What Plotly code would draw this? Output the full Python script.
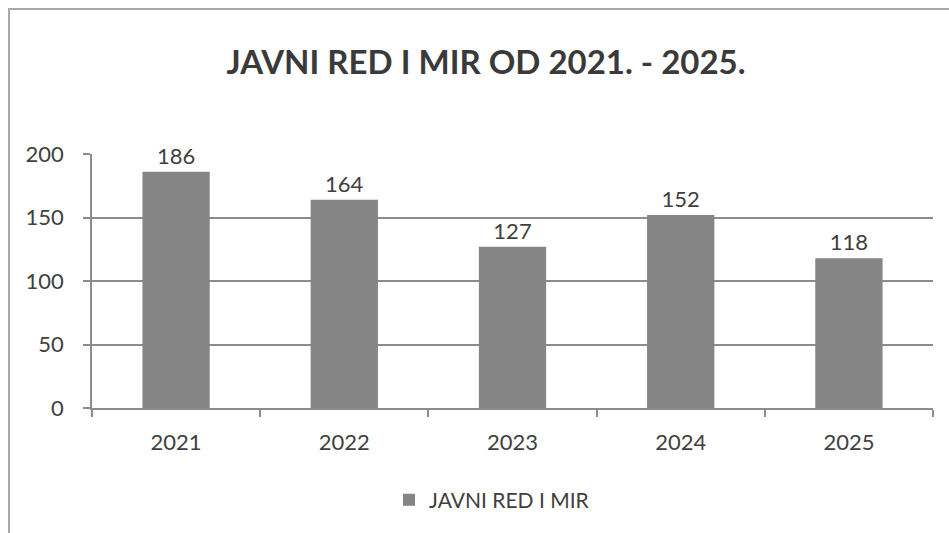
import plotly.graph_objects as go

years = ["2021", "2022", "2023", "2024", "2025"]
values = [186, 164, 127, 152, 118]
series_name = "JAVNI RED I MIR"
title_text = "JAVNI RED I MIR OD 2021. - 2025."
y_ticks = [0, 50, 100, 150, 200]

W, H = 949, 533
L, R, T, B = 92, 16, 154, 125
pw, ph = W - L - R, H - T - B

FONT = "Lato, Open Sans, sans-serif"
TXT = "#404040"
FS = 22

fig = go.Figure()
fig.add_trace(go.Bar(
    x=years, y=values, name=series_name,
    marker=dict(color="#858585", line=dict(width=0)),
    width=0.4,
    text=[str(v) for v in values], textposition="outside",
    textfont=dict(family=FONT, size=FS, color=TXT),
    cliponaxis=False,
))

def px_x(p):
    return (p - L) / pw

def px_y(p):
    return (H - B - p) / ph

fig.update_layout(
    width=W, height=H,
    margin=dict(l=L, r=R, t=T, b=B),
    paper_bgcolor="white", plot_bgcolor="white",
    title=dict(text="<b>" + title_text + "</b>", x=486 / W, xanchor="center",
               y=1 - 62 / H, yanchor="middle",
               font=dict(family=FONT, size=33, color="#3a3a3a")),
    showlegend=True,
    legend=dict(orientation="h", x=px_x(492), xanchor="center", y=px_y(500), yanchor="middle",
                font=dict(family=FONT, size=FS - 1, color=TXT), itemwidth=30),
    xaxis=dict(type="category", showgrid=False, showline=True, linecolor="#8c8c8c", linewidth=1.5,
               ticks="outside", ticklen=7, tickcolor="#8c8c8c", tickwidth=1.5, tickson="boundaries",
               tickfont=dict(family=FONT, size=FS, color=TXT), ticklabelstandoff=14),
    yaxis=dict(range=[0, 200], tickvals=y_ticks, showgrid=True, gridcolor="#8c8c8c", gridwidth=1.5,
               showline=True, linecolor="#8c8c8c", linewidth=1.5, zeroline=False,
               ticks="outside", ticklen=7, tickcolor="#8c8c8c", tickwidth=1.5,
               tickfont=dict(family=FONT, size=FS, color=TXT), ticklabelstandoff=15),
    shapes=[dict(type="rect", xref="paper", yref="paper",
                 x0=px_x(9), x1=px_x(W + 20), y0=px_y(H + 20), y1=px_y(9),
                 line=dict(color="#a8a8a8", width=2), fillcolor="rgba(0,0,0,0)", layer="below")],
)

fig.write_html("out.html", config={"displayModeBar": False},
               post_script="document.body.style.margin='0';")
